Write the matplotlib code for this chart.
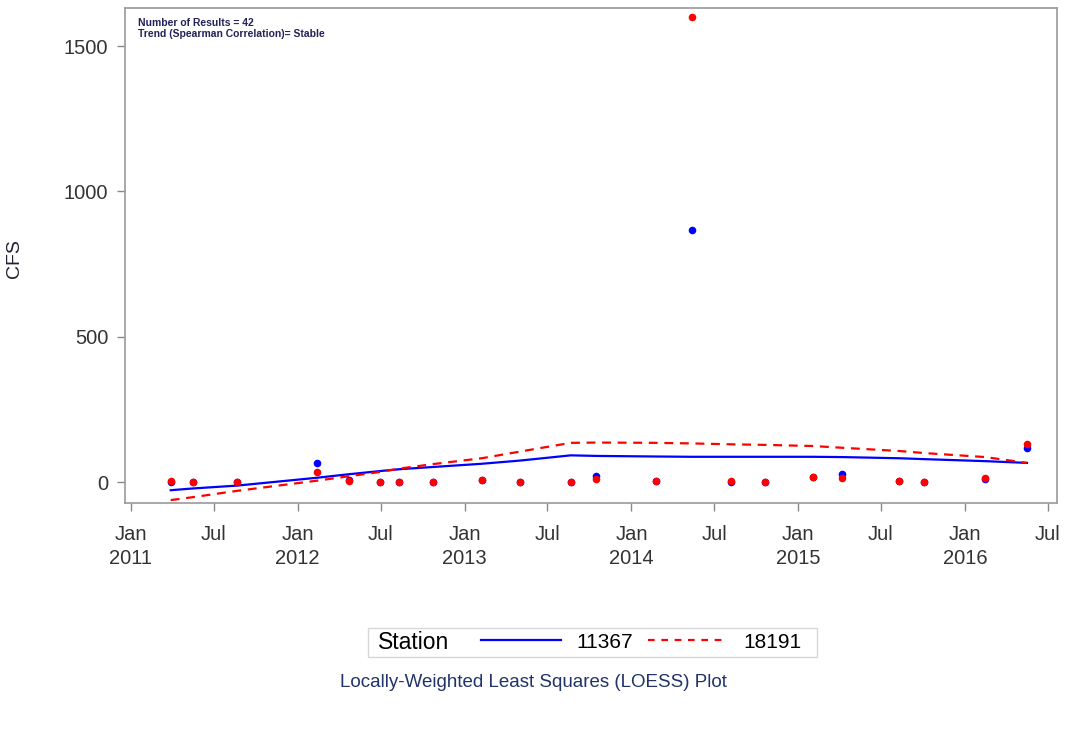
import numpy as np
import pandas as pd
import matplotlib
matplotlib.use("Agg")
import matplotlib.pyplot as plt
from matplotlib.lines import Line2D
from matplotlib.offsetbox import HPacker, DrawingArea

plt.rcParams['font.family'] = ['Liberation Sans', 'DejaVu Sans']

# sample dates
dates = pd.to_datetime([
    "2011-03-29", "2011-05-16", "2011-08-22", "2012-02-13", "2012-04-22",
    "2012-06-30", "2012-08-09", "2012-10-24", "2013-02-07", "2013-05-02",
    "2013-08-21", "2013-10-16", "2014-02-24", "2014-05-13", "2014-08-06",
    "2014-10-20", "2015-02-03", "2015-04-08", "2015-08-10", "2015-10-03",
    "2016-02-15", "2016-05-16",
])

# station 11367 (blue) and 18191 (red) flows, CFS
cfs_11367 = [2, 1, 1, 66, 6, 2, 2, 1, 6, 0, 1, 20, 4, 866, 2, 0, 16, 29, 3, 2, 12, 116]
cfs_18191 = [3, 2, 1, 35, 5, 1, 2, 1, 7, 1, 0, 10, 5, 1600, 3, 0, 17, 13, 3, 1, 13, 132]

# LOESS fits at the same dates
loess_11367 = [-28, -22, -12, 15, 27, 38, 44, 52, 63, 74, 92, 90, 88, 87, 87, 87, 87, 86, 82, 79, 72, 66]
loess_18191 = [-62, -52, -30, 5, 20, 35, 46, 62, 82, 105, 135, 136, 135, 133, 130, 128, 124, 118, 107, 100, 86, 66]

fig = plt.figure(figsize=(10.67, 7.29), dpi=100)
ax = fig.add_axes([0.1172, 0.310, 0.8735, 0.679])

ax.plot(dates, loess_11367, color="#0000ff", lw=1.6, zorder=2)
ax.plot(dates, loess_18191, color="#ff0000", lw=1.6, ls=(0, (4, 3)), zorder=2)
ax.scatter(dates, cfs_11367, color="#0000ff", s=30, zorder=3, linewidths=0)
ax.scatter(dates, cfs_18191, color="#ff0000", s=30, zorder=4, linewidths=0)

ax.set_xlim(pd.Timestamp("2010-12-19"), pd.Timestamp("2016-07-21"))
ax.set_ylim(-72, 1631)
ax.set_yticks([0, 500, 1000, 1500])
ax.set_ylabel("CFS", fontsize=14, color="#222233")
ax.yaxis.set_label_coords(-0.109, 0.493)

ticks = pd.date_range("2011-01-01", "2016-07-01", freq="6MS")
ax.set_xticks(ticks)
ax.set_xticklabels([d.strftime("%b") + ("\n" + str(d.year) if d.month == 1 else "") for d in ticks])
ax.tick_params(axis="both", labelsize=14.5, colors="#888888", length=6, width=1.0, labelcolor="#333333")
ax.tick_params(axis="x", pad=10)
ax.tick_params(axis="y", pad=6)
for lbl in ax.get_xticklabels():
    lbl.set_linespacing(1.3)

for s in ax.spines.values():
    s.set_color("#999999")
    s.set_linewidth(1.2)

ax.text(0.014, 0.979, "Number of Results = 42\nTrend (Spearman Correlation)= Stable",
        transform=ax.transAxes, fontsize=7.5, fontweight="bold", color="#22225a",
        va="top", ha="left", linespacing=1.05)

handles = [Line2D([], [], color="#0000ff", lw=1.6),
           Line2D([], [], color="#ff0000", lw=1.6, ls=(0, (3, 3)))]
leg = fig.legend(handles, ["11367", "18191"], loc="center", bbox_to_anchor=(0.5553, 0.119),
                 ncol=2, fontsize=15, frameon=True, fancybox=False, handlelength=3.85,
                 handletextpad=0.72, columnspacing=0.72, borderpad=0.15, title="Station",
                 title_fontsize=16.5)
leg.get_frame().set_edgecolor("#cccccc")
leg.get_frame().set_linewidth(1.0)
# put the title on the same row as the entries, with some side padding
row = HPacker(pad=0, sep=23, align="center",
              children=[leg._legend_title_box, leg._legend_handle_box])
box = HPacker(pad=leg.borderpad * 15, sep=0, align="center",
              children=[DrawingArea(5, 0), row, DrawingArea(9, 0)])
box.set_figure(fig)
box.set_offset(leg._findoffset)
leg._legend_box = box

fig.text(0.5, 0.064, "Locally-Weighted Least Squares (LOESS) Plot", ha="center", va="center",
         fontsize=13.5, color="#22336a")

fig.savefig("out.png", dpi=100, facecolor="white")
